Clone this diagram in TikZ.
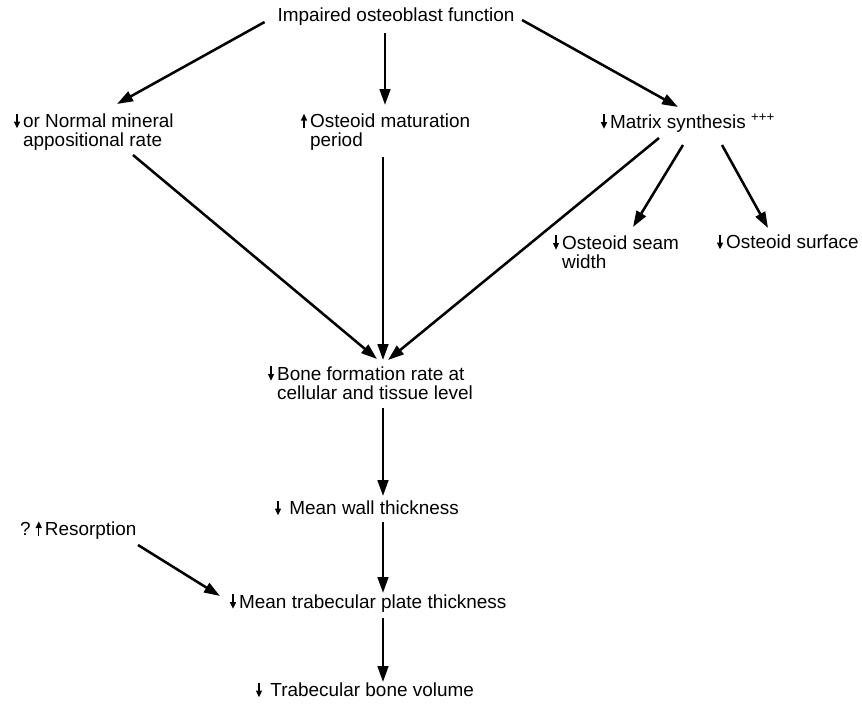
\documentclass[tikz,border=0pt]{standalone}
\usepackage{fontspec}
\setmainfont{Liberation Sans}
\usetikzlibrary{arrows.meta}
\newcommand{\dnar}{\tikz[baseline=0pt]\draw[line width=1pt,-{Triangle[length=5pt,width=4.5pt]}] (0pt,10.5pt)--(0pt,-0.3pt);}
\newcommand{\upar}{\tikz[baseline=0pt]\draw[line width=1pt,-{Triangle[length=5pt,width=4.5pt]}] (0pt,-0.3pt)--(0pt,10.5pt);}
\begin{document}
\begin{tikzpicture}[x=0.75pt,y=-0.75pt,
  lbl/.style={inner sep=0pt,outer sep=0pt,align=left,font=\fontsize{14.2}{14.3}\selectfont},
  arr/.style={line width=1.9pt,-{Triangle[length=12pt,width=8pt]}}]
\useasboundingbox[fill=white] (0,0) rectangle (862,704);
\node[lbl,anchor=center] (top) at (396,17) {Impaired osteoblast function};
\node[lbl,anchor=west] (min) at (14,132) {\dnar\,or Normal mineral\\\phantom{\dnar\,}appositional rate};
\node[lbl,anchor=west] (mat) at (301,132) {\upar\,Osteoid maturation\\\phantom{\upar\,}period};
\node[lbl,anchor=west] (syn) at (601,123) {\dnar\,Matrix synthesis \textsuperscript{+++}};
\node[lbl,anchor=west] (seam) at (553,252) {\dnar\,Osteoid seam\\\phantom{\dnar\,}width};
\node[lbl,anchor=west] (surf) at (717,242) {\dnar\,Osteoid surface};
\node[lbl,anchor=west] (bfr) at (268,383) {\dnar\,Bone formation rate at\\\phantom{\dnar\,}cellular and tissue level};
\node[lbl,anchor=west] (mwt) at (275,508) {\dnar\,\ Mean wall thickness};
\node[lbl,anchor=west] (res) at (20,530) {?\ \upar\,Resorption};
\node[lbl,anchor=west] (mtp) at (230,603) {\dnar\,Mean trabecular plate thickness};
\node[lbl,anchor=west] (tbv) at (256,690) {\dnar\,\ Trabecular bone volume};
% connectors
\draw[arr] ([shift={(-13,5)}]top.west) -- ([shift={(103,-28)}]min.west);
\draw[arr] ([shift={(-11,16)}]top.center) -- ([shift={(84,-27)}]mat.west);
\draw[arr] ([shift={(126,3)}]top.center) -- ([shift={(77,-16)}]syn.west);
\draw[arr] ([shift={(119,23)}]min.west) -- ([shift={(109,-24)}]bfr.west);
\draw[arr] ([shift={(82,25)}]mat.west) -- ([shift={(115,-23)}]bfr.west);
\draw[arr] ([shift={(58,15)}]syn.west) -- ([shift={(120,-23)}]bfr.west);
\draw[arr] ([shift={(82,22)}]syn.west) -- ([shift={(80,-25)}]seam.west);
\draw[arr] ([shift={(121,22)}]syn.west) -- ([shift={(51,-14)}]surf.west);
\draw[arr] ([shift={(115,25)}]bfr.west) -- ([shift={(108,-12)}]mwt.west);
\draw[arr] ([shift={(108,14)}]mwt.west) -- ([shift={(153,-10)}]mtp.west);
\draw[arr] ([shift={(118,15)}]res.west) -- ([shift={(-10,-7)}]mtp.west);
\draw[arr] ([shift={(153,15)}]mtp.west) -- ([shift={(127,-8)}]tbv.west);
\end{tikzpicture}
\end{document}
